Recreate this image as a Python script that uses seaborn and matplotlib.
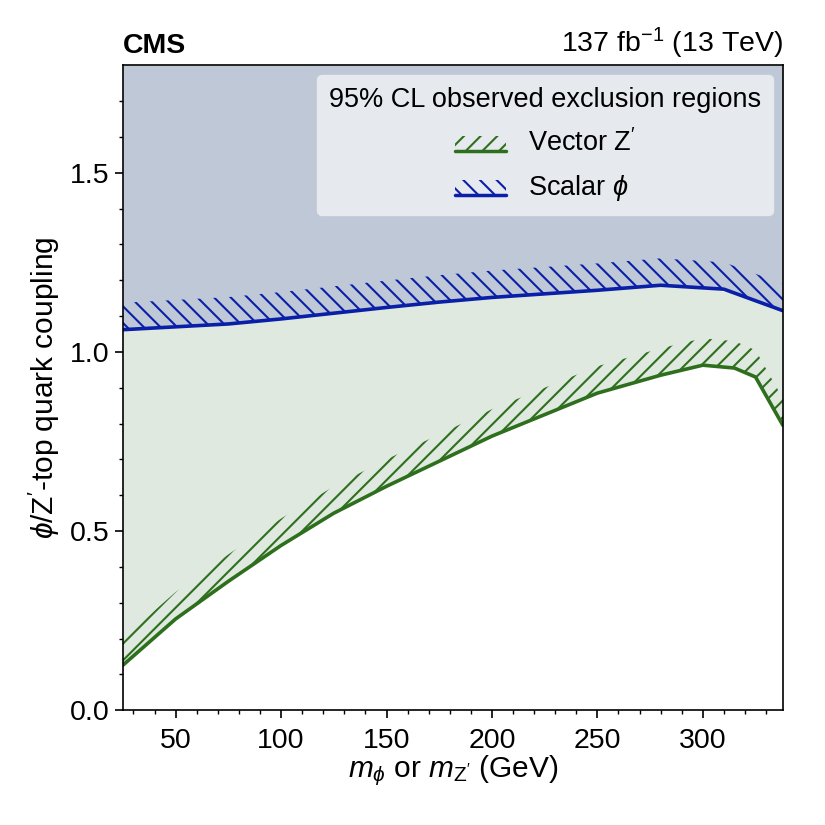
import matplotlib
matplotlib.use('Agg')
import matplotlib.pyplot as plt
import pandas as pd
import seaborn as sns
from matplotlib.legend_handler import HandlerBase
from matplotlib.lines import Line2D
from matplotlib.patches import Patch, Rectangle

# Observed exclusion limits
mass_scalar = [25, 50, 75, 100, 125, 150, 175, 200, 250, 280, 310, 338]
coup_scalar = [1.062, 1.070, 1.078, 1.092, 1.108, 1.124, 1.139, 1.152, 1.172, 1.186, 1.175, 1.115]

mass_vector = [25, 50, 75, 100, 125, 150, 175, 200, 250, 280, 300, 315, 325, 338]
coup_vector = [0.126, 0.255, 0.360, 0.460, 0.550, 0.625, 0.695, 0.765, 0.885, 0.935, 0.963, 0.955, 0.930, 0.795]

GREEN = '#2e6f1d'
BLUE = '#0a1fa8'
BAND = 0.075
YMAX = 1.8


class HatchLineHandler(HandlerBase):
    # hatched box with the solid limit line along its bottom
    def create_artists(self, legend, orig, xd, yd, width, height, fontsize, trans):
        box = Rectangle((xd, yd), width, height * 0.8, facecolor='none',
                        edgecolor=orig.get_edgecolor(), hatch=orig.get_hatch(),
                        linewidth=0, transform=trans)
        line = Line2D([xd, xd + width], [yd, yd], color=orig.get_edgecolor(),
                      linewidth=2.5, transform=trans)
        return [box, line]


sns.set_style('ticks')
plt.rcParams['font.family'] = ['Liberation Sans', 'DejaVu Sans']
plt.rcParams['mathtext.fontset'] = 'custom'
plt.rcParams['mathtext.rm'] = 'Liberation Sans'
plt.rcParams['mathtext.it'] = 'Liberation Sans:italic'
plt.rcParams['hatch.linewidth'] = 1.5
for k in ['text.color', 'axes.labelcolor', 'xtick.color', 'ytick.color', 'axes.edgecolor']:
    plt.rcParams[k] = 'black'

df_s = pd.DataFrame({'mass': mass_scalar, 'coupling': coup_scalar})
df_v = pd.DataFrame({'mass': mass_vector, 'coupling': coup_vector})
blue_on_v = pd.Series(coup_scalar, index=mass_scalar).reindex(
    sorted(set(mass_scalar) | set(mass_vector))).interpolate(method='index')

fig, ax = plt.subplots(figsize=(8.25, 8.25), dpi=100)
plt.subplots_adjust(left=0.149, right=0.949, top=0.921, bottom=0.139)

# excluded regions
ax.fill_between(df_v.mass, df_v.coupling, blue_on_v.reindex(df_v.mass).values,
                color='#dfe9df', linewidth=0)
ax.fill_between(df_s.mass, df_s.coupling, YMAX, color='#bec8d6', linewidth=0)

# hatched bands on the excluded side
ax.fill_between(df_v.mass, df_v.coupling, df_v.coupling + BAND, facecolor='none',
                edgecolor=GREEN, hatch='//', linewidth=0)
ax.fill_between(df_s.mass, df_s.coupling, df_s.coupling + BAND, facecolor='none',
                edgecolor=BLUE, hatch='\\\\', linewidth=0)

sns.lineplot(data=df_v, x='mass', y='coupling', color=GREEN, linewidth=2.6, ax=ax)
sns.lineplot(data=df_s, x='mass', y='coupling', color=BLUE, linewidth=2.6, ax=ax)

ax.set_xlim(25, 338)
ax.set_ylim(0, YMAX)
ax.set_xticks([50, 100, 150, 200, 250, 300])
ax.set_yticks([0.0, 0.5, 1.0, 1.5])
ax.set_xticks(range(30, 340, 10), minor=True)
ax.set_yticks([i / 10 for i in range(0, 18)], minor=True)
ax.tick_params(axis='both', which='major', labelsize=20.5, length=6, width=1.2)
ax.tick_params(axis='x', which='major', pad=7)
ax.tick_params(axis='both', which='minor', length=3, width=1.0)
for s in ax.spines.values():
    s.set_linewidth(1.2)

ax.set_xlabel(r"$m_{\phi}$ or $m_{\mathrm{Z}'}$ (GeV)", fontsize=21.5, labelpad=-1)
ax.set_ylabel(r"$\phi$/Z$'$-top quark coupling", fontsize=21.5, labelpad=6)
ax.set_title('CMS', loc='left', fontsize=20.5, fontweight='bold', pad=9)
ax.set_title(r"137 fb$^{-1}$ (13 TeV)", loc='right', fontsize=20.5, pad=9)

handles = [Patch(facecolor='none', edgecolor=GREEN, hatch='//'),
           Patch(facecolor='none', edgecolor=BLUE, hatch='\\\\')]
leg = ax.legend(handles, ["Vector Z$'$", r"Scalar $\phi$"],
                title='95% CL observed exclusion regions', title_fontsize=19.5,
                fontsize=19.5, loc='upper right', borderaxespad=0.35,
                borderpad=0.45, handlelength=1.9, handletextpad=0.8, labelspacing=0.6,
                fancybox=True, framealpha=1.0,
                handler_map={Patch: HatchLineHandler()})
leg.get_frame().set_facecolor('#e6e9ee')
leg.get_frame().set_edgecolor('#e6e9ee')

plt.savefig('out.png', dpi=100)
